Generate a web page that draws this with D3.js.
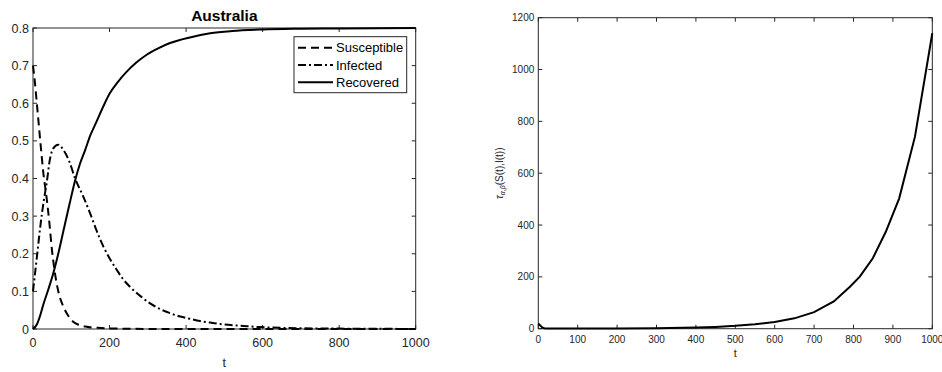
<!DOCTYPE html>
<html><head><meta charset="utf-8">
<script src="https://cdn.jsdelivr.net/npm/d3@7"></script>
<style>
body{margin:0;background:#fff;}
svg{display:block;font-family:"Liberation Sans",Arial,Helvetica,sans-serif;}
</style></head>
<body>
<svg id="c" width="942" height="372"></svg>
<script>
// ---- data ----
const titleLeft = "Australia";
const seriesNames = ["Susceptible", "Infected", "Recovered"];
const susceptible = [[0,0.7],[5,0.655],[10,0.6],[19,0.5],[27,0.415],[36,0.345],[43,0.28],[49,0.215],[55,0.165],[62,0.12],[70,0.085],[80,0.058],[92,0.035],[105,0.019],[120,0.011],[140,0.006],[170,0.003],[220,0.001],[300,0.0003],[1000,0]];
const infected = [[0,0.1],[10,0.19],[20,0.28],[28,0.34],[36,0.39],[44,0.45],[53,0.48],[66,0.49],[80,0.475],[95,0.445],[110,0.4],[130,0.355],[149,0.308],[166,0.262],[184,0.219],[200,0.188],[219,0.157],[235,0.133],[253,0.1125],[280,0.088],[306,0.068],[330,0.054],[358,0.042],[385,0.033],[410,0.027],[436,0.021],[463,0.017],[500,0.012],[550,0.008],[593,0.005],[650,0.003],[700,0.002],[800,0.001],[900,0.0005],[1000,0.0002]];
const recovered = [[0,0],[10,0.012],[20,0.04],[27,0.065],[40,0.105],[53,0.148],[66,0.2],[80,0.263],[95,0.33],[110,0.395],[123,0.44],[136,0.475],[150,0.515],[166,0.551],[183,0.59],[201,0.627],[222,0.657],[245,0.684],[270,0.708],[297,0.729],[327,0.746],[358,0.76],[410,0.775],[463,0.786],[520,0.792],[600,0.796],[700,0.798],[800,0.799],[1000,0.8]];
const tau = [[0,20],[5,12],[10,5],[15,2],[20,1],[50,0.5],[100,0.5],[200,1],[300,2],[400,4.5],[450,7],[500,11],[550,17],[600,26],[650,40],[700,64],[750,105],[791,162],[816,201],[849,272],[882,374],[916,503],[956,741],[1000,1140]];
const leftXTicks = [0,200,400,600,800,1000];
const leftYTicks = [0,0.1,0.2,0.3,0.4,0.5,0.6,0.7,0.8];
const rightXTicks = [0,100,200,300,400,500,600,700,800,900,1000];
const rightYTicks = [0,200,400,600,800,1000,1200];

const svg = d3.select("#c");
const axisCol = "#262626";

function drawAxes(g, x, y, xt, yt, tickLen){
  const [x0,x1] = x.range(), [y0,y1] = y.range();
  g.append("rect").attr("x",x0).attr("y",y1).attr("width",x1-x0).attr("height",y0-y1)
    .attr("fill","none").attr("stroke",axisCol).attr("stroke-width",1);
  xt.forEach(v=>{
    const px = x(v);
    g.append("line").attr("x1",px).attr("x2",px).attr("y1",y0).attr("y2",y0-tickLen).attr("stroke",axisCol);
    g.append("line").attr("x1",px).attr("x2",px).attr("y1",y1).attr("y2",y1+tickLen).attr("stroke",axisCol);
  });
  yt.forEach(v=>{
    const py = y(v);
    g.append("line").attr("x1",x0).attr("x2",x0+tickLen).attr("y1",py).attr("y2",py).attr("stroke",axisCol);
    g.append("line").attr("x1",x1).attr("x2",x1-tickLen).attr("y1",py).attr("y2",py).attr("stroke",axisCol);
  });
  return {x0,x1,y0,y1};
}

// ---- left chart ----
const xL = d3.scaleLinear().domain([0,1000]).range([33,415.7]);
const yL = d3.scaleLinear().domain([0,0.8]).range([329,28]);
const gL = svg.append("g");
const bL = drawAxes(gL, xL, yL, leftXTicks, leftYTicks, 4);
gL.selectAll(".xt").data(leftXTicks).join("text")
  .attr("x",d=>xL(d)).attr("y",bL.y0+18).attr("text-anchor","middle")
  .attr("font-size",12.5).attr("fill",axisCol).text(d=>d);
gL.selectAll(".yt").data(leftYTicks).join("text")
  .attr("x",bL.x0-4).attr("y",d=>yL(d)+4.5).attr("text-anchor","end")
  .attr("font-size",12.5).attr("fill",axisCol).text(d=>d===0?"0":d3.format(".1f")(d));
gL.append("text").attr("x",(bL.x0+bL.x1)/2).attr("y",367).attr("text-anchor","middle")
  .attr("font-size",12.5).attr("fill",axisCol).text("t");
gL.append("text").attr("x",(bL.x0+bL.x1)/2).attr("y",21).attr("text-anchor","middle")
  .attr("font-size",15.5).attr("font-weight","bold").attr("fill","#000").text(titleLeft);

const lineL = d3.line().x(d=>xL(d[0])).y(d=>yL(d[1])).curve(d3.curveMonotoneX);
const dashes = ["8,5", "8,3,2,3", null];
[susceptible, infected, recovered].forEach((s,i)=>{
  const p = gL.append("path").datum(s).attr("d",lineL).attr("fill","none")
    .attr("stroke","#000").attr("stroke-width",2);
  if(dashes[i]) p.attr("stroke-dasharray",dashes[i]);
});
// legend
const lg = gL.append("g");
lg.append("rect").attr("x",294).attr("y",36.7).attr("width",112.7).attr("height",56)
  .attr("fill","#fff").attr("stroke",axisCol).attr("stroke-width",1);
seriesNames.forEach((n,i)=>{
  const yy = 47.7 + i*17.3;
  const l = lg.append("line").attr("x1",298).attr("x2",333).attr("y1",yy).attr("y2",yy)
    .attr("stroke","#000").attr("stroke-width",2);
  if(dashes[i]) l.attr("stroke-dasharray",dashes[i]);
  lg.append("text").attr("x",336).attr("y",yy+4.5).attr("font-size",13).attr("fill","#000").text(n);
});

// ---- right chart ----
const xR = d3.scaleLinear().domain([0,1000]).range([538.3,932.3]);
const yR = d3.scaleLinear().domain([0,1200]).range([328.7,17.7]);
const gR = svg.append("g");
const bR = drawAxes(gR, xR, yR, rightXTicks, rightYTicks, 4);
gR.selectAll(".xt").data(rightXTicks).join("text")
  .attr("x",d=>xR(d)).attr("y",bR.y0+14).attr("text-anchor","middle")
  .attr("font-size",10).attr("fill",axisCol).text(d=>d);
gR.selectAll(".yt").data(rightYTicks).join("text")
  .attr("x",bR.x0-4).attr("y",d=>yR(d)+3.5).attr("text-anchor","end")
  .attr("font-size",10).attr("fill",axisCol).text(d=>d);
gR.append("text").attr("x",(bR.x0+bR.x1)/2).attr("y",357).attr("text-anchor","middle")
  .attr("font-size",11).attr("fill",axisCol).text("t");
const yl = gR.append("text").attr("transform",`translate(503,${(bR.y0+bR.y1)/2}) rotate(-90)`)
  .attr("text-anchor","middle").attr("font-size",10).attr("fill",axisCol);
yl.append("tspan").attr("font-style","italic").text("τ");
yl.append("tspan").attr("font-size",7).attr("font-style","italic").attr("dy",2).text("α,β");
yl.append("tspan").attr("dy",-2).text("(S(t),I(t))");

const lineR = d3.line().x(d=>xR(d[0])).y(d=>yR(d[1]));
gR.append("path").datum(tau).attr("d",lineR).attr("fill","none")
  .attr("stroke","#000").attr("stroke-width",2);
</script>
</body></html>
